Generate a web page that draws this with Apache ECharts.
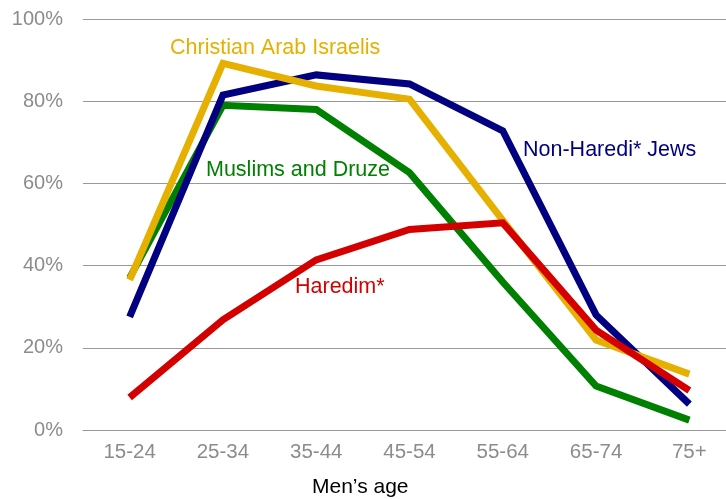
<!DOCTYPE html>
<html>
<head>
<meta charset="UTF-8">
<title>chart</title>
<script src="https://cdn.jsdelivr.net/npm/echarts@6/dist/echarts.min.js"></script>
<style>
    body { margin: 0; background: #fff; }
    #main { width: 726px; height: 499px; }
</style>
</head>
<body>
<div id="main"></div>
<script type="text/javascript">
    var ages = ['15-24', '25-34', '35-44', '45-54', '55-64', '65-74', '75+'];
    var yTicks = [0, 20, 40, 60, 80, 100];
    var nonHarediJews = [27.5, 81.5, 86.4, 84.2, 72.8, 28, 6.3];
    var christianArabs = [36.5, 89.2, 83.7, 80.5, 51, 21.9, 13.6];
    var muslimsDruze = [37, 79, 78, 62.6, 36, 10.7, 2.4];
    var haredim = [7.9, 26.8, 41.4, 48.8, 50.4, 24.3, 9.6];

    var font = 'Liberation Sans, Arial, sans-serif';
    var myChart = echarts.init(document.getElementById('main'));

    function lineSeries(name, data, color) {
        return {
            name: name,
            type: 'line',
            data: data,
            symbol: 'none',
            lineStyle: { color: color, width: 7, cap: 'butt', join: 'miter' },
            itemStyle: { color: color }
        };
    }

    var option = {
        animation: false,
        title: {
            text: 'Men\u2019s age',
            left: 312,
            top: 477,
            padding: 0,
            textStyle: { fontFamily: font, fontSize: 21, fontWeight: 'normal', color: '#000' }
        },
        grid: { left: 83, top: 19, width: 653, bottom: 69, outerBoundsMode: 'none' },
        xAxis: {
            type: 'category',
            data: ages,
            axisLine: { lineStyle: { color: '#999', width: 1 } },
            axisTick: { alignWithLabel: true, length: 6, lineStyle: { color: '#999' } },
            axisLabel: { color: '#8c8c8c', fontFamily: font, fontSize: 20.5, margin: 12 }
        },
        yAxis: {
            type: 'value',
            min: yTicks[0],
            max: yTicks[yTicks.length - 1],
            interval: 20,
            axisLine: { show: false },
            axisTick: { show: false },
            axisLabel: { formatter: '{value}%', color: '#8c8c8c', fontFamily: font, fontSize: 20, margin: 20 },
            splitLine: { lineStyle: { color: '#999', width: 1 } }
        },
        graphic: [
            { type: 'text', left: 170, top: 37, style: { text: 'Christian Arab Israelis', fill: '#e6b000', font: '21.5px ' + font } },
            { type: 'text', left: 206, top: 159, style: { text: 'Muslims and Druze', fill: '#008000', font: '21.5px ' + font } },
            { type: 'text', left: 523, top: 139, style: { text: 'Non-Haredi* Jews', fill: '#000080', font: '21.5px ' + font } },
            { type: 'text', left: 295, top: 276, style: { text: 'Haredim*', fill: '#d40000', font: '21.5px ' + font } }
        ],
        series: [
            lineSeries('Muslims and Druze', muslimsDruze, '#008000'),
            lineSeries('Non-Haredi* Jews', nonHarediJews, '#000080'),
            lineSeries('Christian Arab Israelis', christianArabs, '#e6b000'),
            lineSeries('Haredim*', haredim, '#d40000')
        ]
    };
    myChart.setOption(option);
</script>
</body>
</html>
